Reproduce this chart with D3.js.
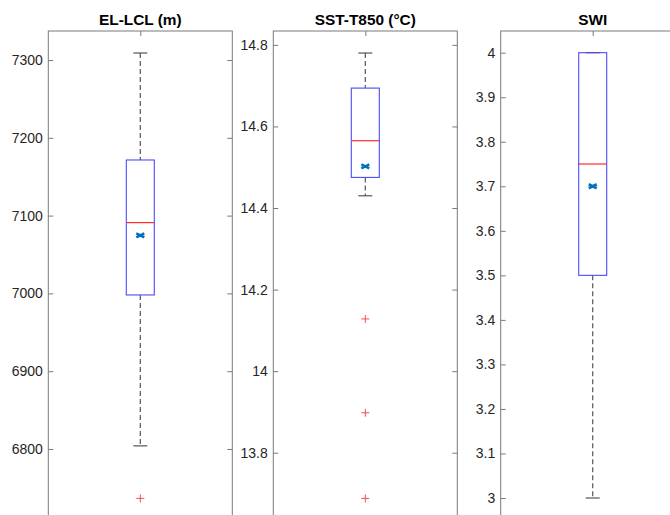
<!DOCTYPE html>
<html><head><meta charset="utf-8">
<script src="https://cdn.jsdelivr.net/npm/d3@7"></script>
<style>
html,body{margin:0;padding:0;background:#fff;}
svg{display:block;font-family:"Liberation Sans",Arial,Helvetica,sans-serif;}
</style></head><body>
<svg id="chart" width="670" height="515"></svg>
<script>
// ---- data ----
const titles = ["EL-LCL (m)", "SST-T850 (°C)", "SWI"];
const whiskerHigh = [7309, 14.78, 4.0];
const q3 = [7171.5, 14.694, 4.0];
const medians = [7091, 14.565, 3.75];
const means = [7074.5, 14.502, 3.70];
const q1 = [6998, 14.475, 3.50];
const whiskerLow = [6804, 14.43, 3.0];
const outliers = [[6736.5], [14.128, 13.898, 13.688], []];
const tickValues = [
  [6800, 6900, 7000, 7100, 7200, 7300],
  [13.8, 14.0, 14.2, 14.4, 14.6, 14.8],
  [3.0, 3.1, 3.2, 3.3, 3.4, 3.5, 3.6, 3.7, 3.8, 3.9, 4.0]
];
const tickLabels = [
  ["6800", "6900", "7000", "7100", "7200", "7300"],
  ["13.8", "14", "14.2", "14.4", "14.6", "14.8"],
  ["3", "3.1", "3.2", "3.3", "3.4", "3.5", "3.6", "3.7", "3.8", "3.9", "4"]
];
const yDomains = [[6683, 7337.3], [13.586, 14.834], [2.9057, 4.0487]];

// ---- layout ----
const panelLeft = [48.3, 273.3, 500.7];
const panelWidth = 184;
const plotTop = 31, plotBottom = 540;
const boxW = 28, capW = 14, tickLen = 5;

const svg = d3.select("#chart");

titles.forEach((t, i) => {
  const g = svg.append("g");
  const x = d3.scaleLinear().domain([0.5, 1.5]).range([panelLeft[i], panelLeft[i] + panelWidth]);
  const y = d3.scaleLinear().domain(yDomains[i]).range([plotBottom, plotTop]);
  const cx = x(1);
  const axisColor = "#7a7a7a";

  // frame
  g.append("rect").attr("x", x(0.5)).attr("y", plotTop).attr("width", panelWidth).attr("height", plotBottom - plotTop)
    .attr("fill", "none").attr("stroke", axisColor).attr("stroke-width", 1);

  // left axis with inward ticks
  const yAxis = d3.axisLeft(y).tickValues(tickValues[i]).tickSizeInner(-tickLen).tickSizeOuter(0)
    .tickPadding(5.5).tickFormat((d, k) => tickLabels[i][k]);
  const ax = g.append("g").attr("transform", `translate(${x(0.5)},0)`).call(yAxis);
  ax.select(".domain").remove();
  ax.selectAll(".tick line").attr("stroke", axisColor);
  ax.selectAll(".tick text").attr("fill", "#262626").style("font-size", "14px")
    .style("font-family", '"Liberation Sans",Arial,sans-serif');

  // right axis ticks (inward)
  const rAxis = d3.axisRight(y).tickValues(tickValues[i]).tickSizeInner(-tickLen).tickSizeOuter(0).tickFormat("");
  const rx = g.append("g").attr("transform", `translate(${x(1.5)},0)`).call(rAxis);
  rx.select(".domain").remove();
  rx.selectAll(".tick line").attr("stroke", axisColor);

  // top tick at box position
  const tAxis = d3.axisTop(x).tickValues([1]).tickSizeInner(-tickLen).tickSizeOuter(0).tickFormat("");
  const tx = g.append("g").attr("transform", `translate(0,${plotTop})`).call(tAxis);
  tx.select(".domain").remove();
  tx.selectAll(".tick line").attr("stroke", axisColor);

  // title
  g.append("text").attr("x", cx).attr("y", 25).attr("text-anchor", "middle")
    .style("font-weight", "bold").style("font-size", "15.4px").attr("fill", "#000").text(t);

  const whiskColor = "#555";
  // whiskers (dashed)
  g.append("line").attr("x1", cx).attr("x2", cx).attr("y1", y(whiskerHigh[i])).attr("y2", y(q3[i]))
    .attr("stroke", whiskColor).attr("stroke-width", 1.2).attr("stroke-dasharray", "5,3");
  g.append("line").attr("x1", cx).attr("x2", cx).attr("y1", y(q1[i])).attr("y2", y(whiskerLow[i]))
    .attr("stroke", whiskColor).attr("stroke-width", 1.2).attr("stroke-dasharray", "5,3");
  // caps
  [whiskerHigh[i], whiskerLow[i]].forEach(v => {
    g.append("line").attr("x1", cx - capW / 2).attr("x2", cx + capW / 2).attr("y1", y(v)).attr("y2", y(v))
      .attr("stroke", whiskColor).attr("stroke-width", 1.2);
  });
  // box
  g.append("rect").attr("x", cx - boxW / 2).attr("y", y(q3[i])).attr("width", boxW)
    .attr("height", y(q1[i]) - y(q3[i])).attr("fill", "none").attr("stroke", "#4a4aff").attr("stroke-width", 1.1);
  // median
  g.append("line").attr("x1", cx - boxW / 2).attr("x2", cx + boxW / 2).attr("y1", y(medians[i])).attr("y2", y(medians[i]))
    .attr("stroke", "#ff2a2a").attr("stroke-width", 1.2);
  // mean marker
  const my = y(means[i]);
  g.append("path").attr("d", `M${cx - 4},${my - 2}L${cx + 4},${my + 2}M${cx - 4},${my + 2}L${cx + 4},${my - 2}`)
    .attr("stroke", "#0072BD").attr("stroke-width", 2.6).attr("fill", "none");
  // outliers
  outliers[i].forEach(v => {
    const oy = y(v);
    g.append("path").attr("d", `M${cx - 4},${oy}H${cx + 4}M${cx},${oy - 4}V${oy + 4}`)
      .attr("stroke", "#ff4a4a").attr("stroke-width", 1).attr("fill", "none");
  });
});
</script>
</body></html>
